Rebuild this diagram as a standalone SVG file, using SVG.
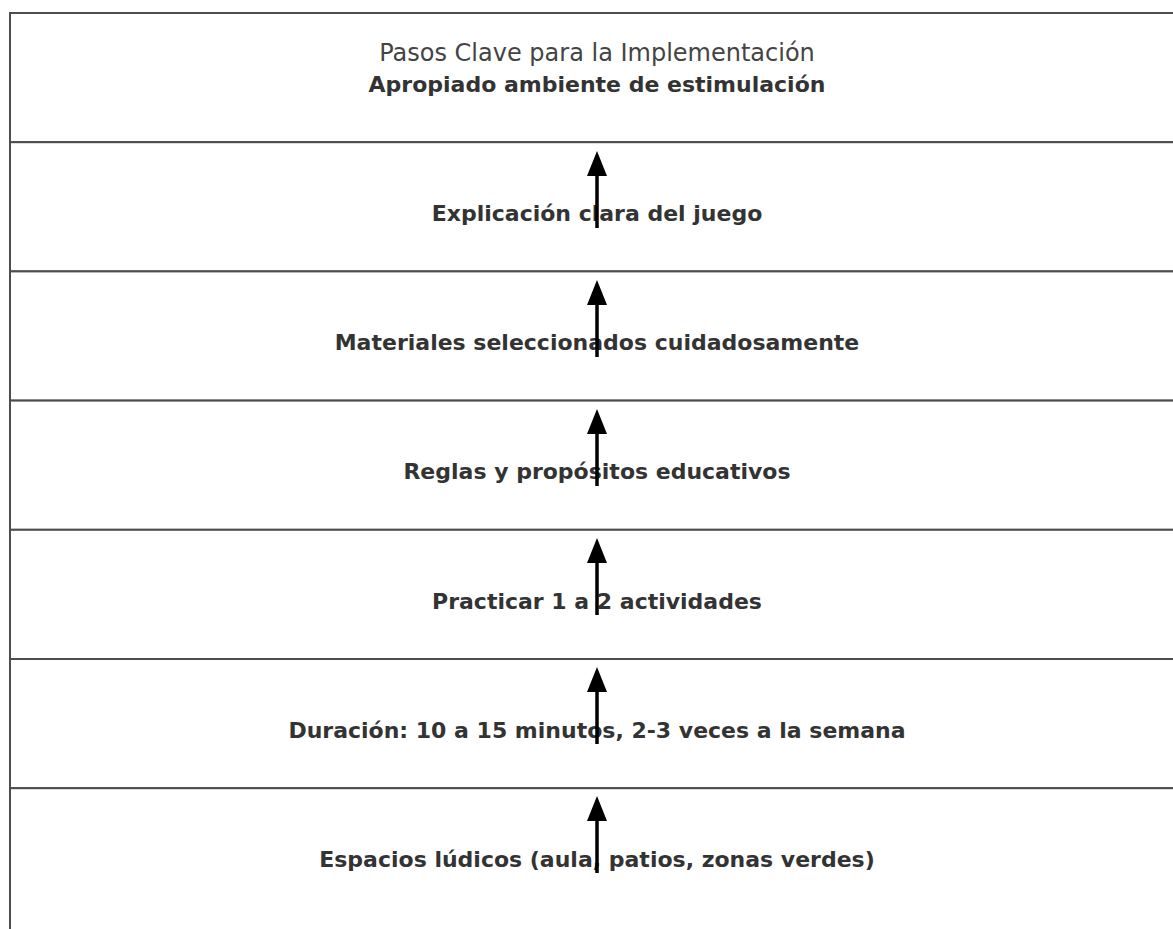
<svg xmlns="http://www.w3.org/2000/svg" width="1173" height="929" viewBox="0 0 1173 929">
<style>
.box{fill:#fff;stroke:#4d4d4d;stroke-width:2}
.t{font-family:"DejaVu Sans",sans-serif;fill:#333;text-anchor:middle}
.b{font-weight:bold;font-size:22px}
.h{font-size:24px;fill:#444}
.arr{stroke:#000;stroke-width:3.5;fill:none;marker-end:url(#ah)}
</style>
<defs>
<marker id="ah" markerUnits="userSpaceOnUse" markerWidth="25" markerHeight="20" refX="18" refY="10" orient="auto" viewBox="0 0 25 20">
<path d="M0,0 L25,10 L0,20 z" fill="#000"/>
</marker>
</defs>
<rect width="1173" height="929" fill="#fff"/>
<g id="n0"><rect class="box" x="10" y="13" width="1200" height="129.2"/>
<text class="t h" x="597" y="61">Pasos Clave para la Implementación</text>
<text class="t b" x="597" y="92">Apropiado ambiente de estimulación</text></g>
<g id="n1"><rect class="box" x="10" y="142.2" width="1200" height="129.2"/>
<text class="t b" x="597" y="221">Explicación clara del juego</text></g>
<g id="n2"><rect class="box" x="10" y="271.4" width="1200" height="129.2"/>
<text class="t b" x="597" y="350">Materiales seleccionados cuidadosamente</text></g>
<g id="n3"><rect class="box" x="10" y="400.6" width="1200" height="129.2"/>
<text class="t b" x="597" y="479">Reglas y propósitos educativos</text></g>
<g id="n4"><rect class="box" x="10" y="529.8" width="1200" height="129.2"/>
<text class="t b" x="597" y="609">Practicar 1 a 2 actividades</text></g>
<g id="n5"><rect class="box" x="10" y="659" width="1200" height="129.2"/>
<text class="t b" x="597" y="738">Duración: 10 a 15 minutos, 2-3 veces a la semana</text></g>
<g id="n6"><rect class="box" x="10" y="788.2" width="1200" height="200"/>
<text class="t b" x="597" y="867">Espacios lúdicos (aula, patios, zonas verdes)</text></g>
<g id="connectors">
<line class="arr" x1="597" y1="228" x2="597" y2="158"/>
<line class="arr" x1="597" y1="357" x2="597" y2="287"/>
<line class="arr" x1="597" y1="486" x2="597" y2="416"/>
<line class="arr" x1="597" y1="615" x2="597" y2="545"/>
<line class="arr" x1="597" y1="744" x2="597" y2="674"/>
<line class="arr" x1="597" y1="873" x2="597" y2="803"/>
</g>
</svg>
